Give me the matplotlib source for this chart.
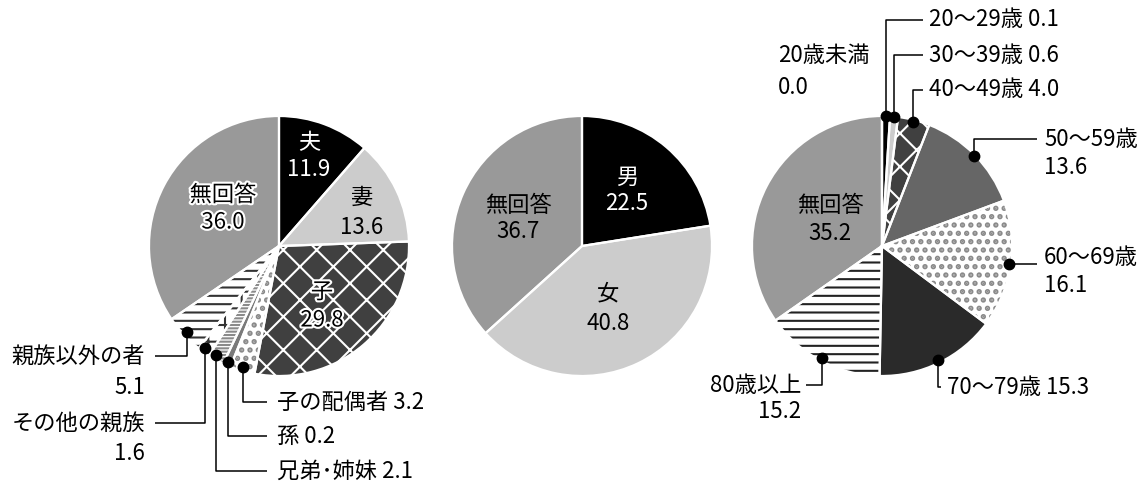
import matplotlib.pyplot as plt
import matplotlib.patheffects as pe
import numpy as np

plt.rcParams['font.family'] = ['Noto Sans CJK JP', 'DejaVu Sans']
plt.rcParams['hatch.linewidth'] = 1.5

# 続柄
rel_labels = ['夫', '妻', '子', '子の配偶者', '孫', '兄弟･姉妹', 'その他の親族', '親族以外の者', '無回答']
rel_values = np.array([11.9, 13.6, 29.8, 3.2, 0.2, 2.1, 1.6, 5.1, 36.0])

# 性別
sex_labels = ['男', '女', '無回答']
sex_values = np.array([22.5, 40.8, 36.7])

# 年齢
age_labels = ['20歳未満', '20～29歳', '30～39歳', '40～49歳', '50～59歳',
              '60～69歳', '70～79歳', '80歳以上', '無回答']
age_values = np.array([0.0, 0.1, 0.6, 4.0, 13.6, 16.1, 15.3, 15.2, 35.2])

R = 130
FS = 16

fig = plt.figure(figsize=(11.43, 4.83), dpi=100)
ax = fig.add_axes([0, 0, 1, 1])


def draw_pie(values, center, faces, hatches, hcolors):
    # tiny slices are drawn a little wider so they stay visible
    shown = np.where(values > 0, np.maximum(values, 1.0), 0)
    wedges, _ = ax.pie(shown, center=center, radius=R, startangle=-90,
                       counterclock=True, colors=faces,
                       wedgeprops=dict(linewidth=0))
    for w, h, hc in zip(wedges, hatches, hcolors):
        if h:
            w.set_hatch(h)
            w.set_edgecolor(hc)
            if h == '..' and hasattr(w, 'set_hatch_linewidth'):
                w.set_hatch_linewidth(2.6)
    ax.pie(shown, center=center, radius=R, startangle=-90, counterclock=True,
           colors=['none'] * len(shown),
           wedgeprops=dict(linewidth=1.6, edgecolor='white'))
    return wedges


def anchor(center, ang, frac=0.97):
    a = np.deg2rad(ang)
    return center[0] + frac * R * np.cos(a), center[1] + frac * R * np.sin(a)


def mid(w):
    return (w.theta1 + w.theta2) / 2


def text_lines(x, y, lines, ha='center', color='black', halo=False, step=28):
    for i, s in enumerate(lines):
        t = ax.text(x, y + i * step, s, ha=ha, va='center', fontsize=FS, color=color)
        if halo:
            t.set_path_effects([pe.withStroke(linewidth=3, foreground='white')])


def leader(pts):
    xs, ys = zip(*pts)
    ax.plot(xs, ys, color='black', lw=1.1, solid_capstyle='butt')
    ax.plot(xs[0], ys[0], 'o', color='black', ms=7.5)


# ---- left pie ----
c1 = (279, 246)
w1 = draw_pie(rel_values, c1,
              ['black', '#cccccc', '#404040', 'white', '#7a7a7a', 'white', 'white', 'white', '#999999'],
              [None, None, 'x', '..', None, '-----', '+', '--', None],
              [None, None, 'white', '#8a8a8a', None, '#8a8a8a', '#333333', '#333333', None])

text_lines(309, 143, ['夫', '11.9'], color='white', step=27)
text_lines(362, 197, ['妻', '13.6'], step=30)
text_lines(322, 292, ['子', '29.8'], halo=True, step=28)
text_lines(223, 195, ['無回答', '36.0'], halo=True, step=27)

# spread the anchors of the small slices
angs = []
for w in w1[3:8]:
    a = mid(w)
    if angs and a < angs[-1] + 6.2:
        a = angs[-1] + 6.2
    angs.append(a)
p_haigu, p_mago, p_kyodai, p_sonota, p_igai = [anchor(c1, a) for a in angs]

leader([p_igai, (p_igai[0], 356), (155, 356)])
text_lines(145, 356, [rel_labels[7], '5.1'], ha='right', step=31)
leader([p_sonota, (p_sonota[0], 423), (155, 423)])
text_lines(145, 423, [rel_labels[6], '1.6'], ha='right', step=31)
leader([p_haigu, (p_haigu[0], 402), (267, 402)])
text_lines(277, 402, [f'{rel_labels[3]} {rel_values[3]:.1f}'], ha='left')
leader([p_mago, (p_mago[0], 436), (267, 436)])
text_lines(277, 436, [f'{rel_labels[4]} {rel_values[4]:.1f}'], ha='left')
leader([p_kyodai, (p_kyodai[0], 471), (267, 471)])
text_lines(277, 471, [f'{rel_labels[5]} {rel_values[5]:.1f}'], ha='left')

# ---- middle pie ----
c2 = (582, 246)
draw_pie(sex_values, c2, ['black', '#cccccc', '#999999'],
         [None, None, None], [None, None, None])
text_lines(627, 177, ['男', f'{sex_values[0]:.1f}'], color='white', step=27)
text_lines(608, 294, ['女', f'{sex_values[1]:.1f}'], step=29)
text_lines(518, 206, ['無回答', f'{sex_values[2]:.1f}'], step=25)

# ---- right pie ----
c3 = (882, 246)
w3 = draw_pie(age_values, c3,
              ['white', 'black', '#cccccc', '#404040', '#666666', 'white', '#2a2a2a', 'white', '#999999'],
              [None, None, None, 'x', None, '..', None, '--', None],
              [None, None, None, 'white', None, '#8a8a8a', None, '#222222', None])
text_lines(830, 205, ['無回答', f'{age_values[8]:.1f}'], step=28)

text_lines(778, 55, [age_labels[0], f'{age_values[0]:.1f}'], ha='left', step=32)

p = anchor(c3, mid(w3[1]), 1.0)
leader([p, (p[0], 20), (923, 20)])
text_lines(929, 20, [f'{age_labels[1]} {age_values[1]:.1f}'], ha='left')
p = anchor(c3, mid(w3[2]), 1.0)
leader([p, (p[0], 55), (923, 55)])
text_lines(929, 55, [f'{age_labels[2]} {age_values[2]:.1f}'], ha='left')
p = anchor(c3, mid(w3[3]), 0.98)
leader([p, (p[0], 90), (923, 90)])
text_lines(929, 90, [f'{age_labels[3]} {age_values[3]:.1f}'], ha='left')
p = anchor(c3, mid(w3[4]), 0.99)
leader([p, (p[0], 139), (1037, 139)])
text_lines(1044, 140, [age_labels[4], f'{age_values[4]:.1f}'], ha='left')
p = anchor(c3, mid(w3[5]), 0.99)
leader([p, (1037, p[1])])
text_lines(1044, 257, [age_labels[5], f'{age_values[5]:.1f}'], ha='left')
p = anchor(c3, mid(w3[6]), 0.98)
leader([p, (p[0], 387), (941, 387)])
text_lines(947, 387, [f'{age_labels[6]} {age_values[6]:.1f}'], ha='left')
p = anchor(c3, mid(w3[7]), 0.98)
leader([p, (p[0], 385), (806, 385)])
text_lines(801, 385, [age_labels[7], f'{age_values[7]:.1f}'], ha='right', step=27)

ax.set_xlim(0, 1143)
ax.set_ylim(483, 0)
ax.set_aspect('equal')
ax.axis('off')

fig.savefig('out.png', dpi=100, facecolor='white')
